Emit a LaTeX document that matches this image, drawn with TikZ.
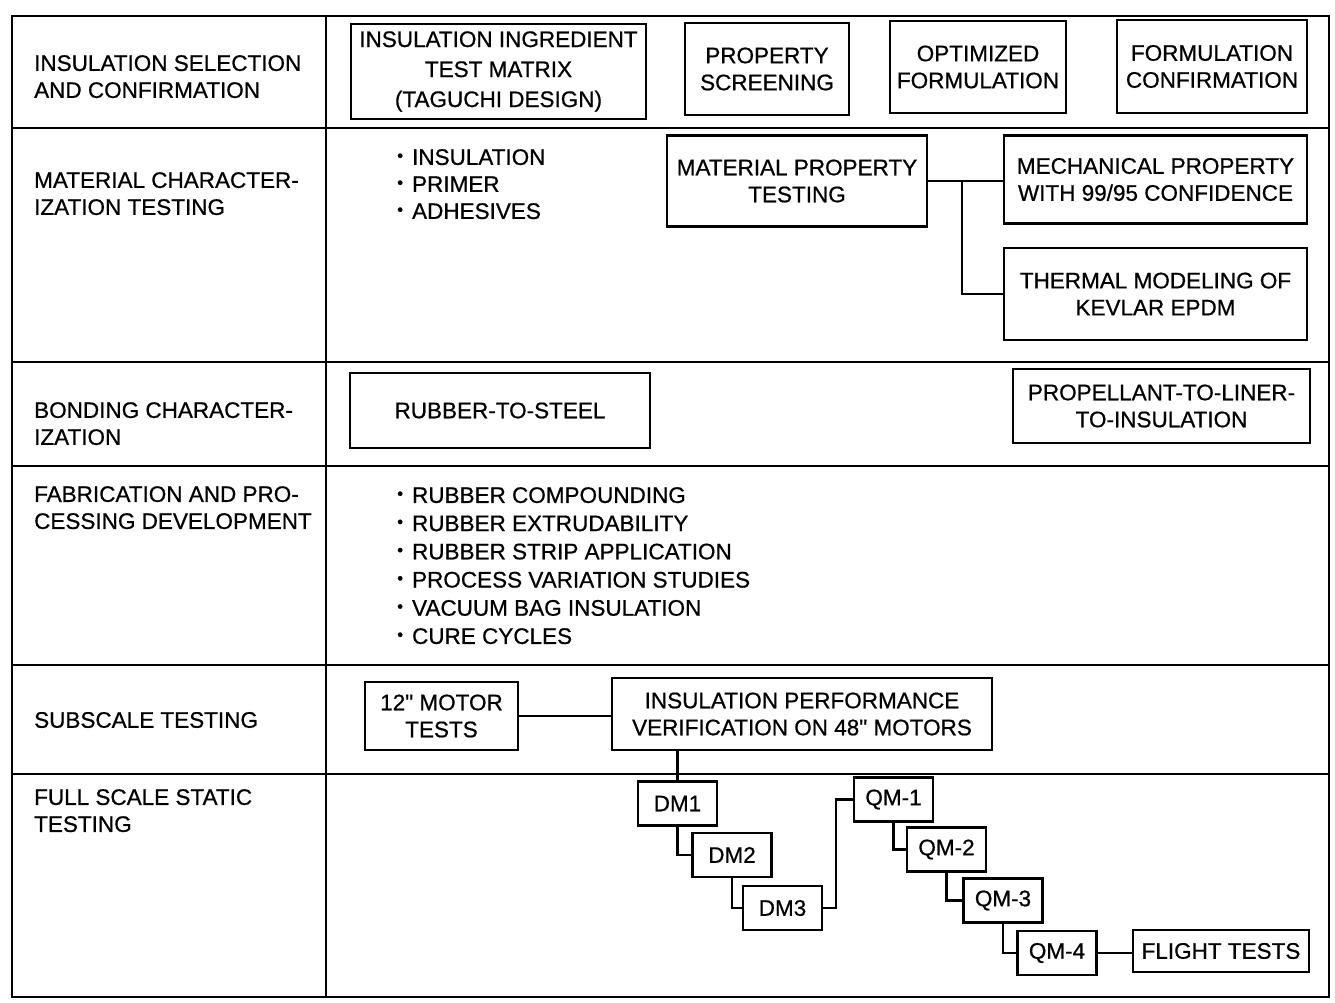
\documentclass[tikz,border=0pt]{standalone}
\usepackage{graphicx}
\usepackage{fontspec}
\setmainfont{Liberation Sans}
\newfontfamily\scanfont{Liberation Sans}[FakeBold=0.7]
\usetikzlibrary{positioning,calc}
\newcommand{\itm}{\raisebox{0.16em}{\scalebox{0.75}{\textbullet}}\hspace{0.4em}}

\begin{document}
\begin{tikzpicture}[x=1pt, y=-1pt,
          every node/.style={font=\scanfont\fontsize{22.5}{27}\selectfont},
          box/.style={rectangle, draw, line width=2.4pt, align=center, inner sep=0pt},
          motor/.style={box, minimum width=79pt, minimum height=44pt},
          rowlabel/.style={anchor=north west, align=left, inner sep=0pt},
          grid/.style={line width=2.8pt},
          link/.style={line width=2.4pt}
        ]
          \useasboundingbox (0,0) rectangle (1335,1002);
          \draw[grid] (12,16) rectangle (1329,997);
          \draw[grid] (326,16) -- (326,997);
          \foreach \y in {128,362,466,665,774}
            \draw[grid] (12,\y) -- (1329,\y);

          \node[rowlabel] (lblsel) at (34,55) {INSULATION SELECTION\\AND CONFIRMATION};
          \node[rowlabel] (lblmat) at (34,172) {MATERIAL CHARACTER-\\IZATION TESTING};
          \node[rowlabel] (lblbond) at (34,402) {BONDING CHARACTER-\\IZATION};
          \node[rowlabel] (lblfab) at (34,486) {FABRICATION AND PRO-\\CESSING DEVELOPMENT};
          \node[rowlabel, anchor=west] (lblsub) at (34,720) {SUBSCALE TESTING};
          \node[rowlabel] (lblfull) at (34,789) {FULL SCALE STATIC\\TESTING};

          \node[box, minimum width=295pt, minimum height=95pt, font=\scanfont\fontsize{22.5}{30}\selectfont] (matrix) at (498.5,71.5) {INSULATION INGREDIENT\\TEST MATRIX\\(TAGUCHI DESIGN)};
          \node[box, minimum width=164pt, minimum height=92pt] (screen) at (767,69) {PROPERTY\\SCREENING};
          \node[box, minimum width=176pt, minimum height=92pt] (optim) at (978,67) {OPTIMIZED\\FORMULATION};
          \node[box, minimum width=190pt, minimum height=93pt] (confirm) at (1212,66.5) {FORMULATION\\CONFIRMATION};

          \node[rowlabel] (matlist) at (397,149) {\itm INSULATION\\\itm PRIMER\\\itm ADHESIVES};
          \node[box, minimum width=260pt, minimum height=91pt] (mpt) at (797,181) {MATERIAL PROPERTY\\TESTING};
          \node[box, minimum width=303pt, minimum height=88pt] (mech) at (1155.5,179.5) {MECHANICAL PROPERTY\\WITH 99/95 CONFIDENCE};
          \node[box, minimum width=303pt, minimum height=92pt] (thermal) at (1155.5,294) {THERMAL MODELING OF\\KEVLAR EPDM};
          \draw[link] (mpt.east) -- (mpt.east -| mech.west);
          \coordinate (split) at ($(mpt.east)!0.45!(mpt.east -| mech.west)$);
          \draw[link] (split) |- (thermal.west);

          \node[box, minimum width=300pt, minimum height=75pt] (steel) at (500,410.5) {RUBBER-TO-STEEL};
          \node[box, minimum width=297pt, minimum height=74pt] (liner) at (1161.5,406) {PROPELLANT-TO-LINER-\\TO-INSULATION};

          \node[rowlabel, font=\scanfont\fontsize{22.5}{28.2}\selectfont] (fablist) at (397,487) {\itm RUBBER COMPOUNDING\\\itm RUBBER EXTRUDABILITY\\\itm RUBBER STRIP APPLICATION\\\itm PROCESS VARIATION STUDIES\\\itm VACUUM BAG INSULATION\\\itm CURE CYCLES};

          \node[box, minimum width=153pt, minimum height=68pt] (motor12) at (441.5,716) {12" MOTOR\\TESTS};
          \node[box, minimum width=380pt, minimum height=72pt] (verify) at (802,714) {INSULATION PERFORMANCE\\VERIFICATION ON 48" MOTORS};
          \draw[link] (motor12.east) -- (motor12.east -| verify.west);

          \node[motor] (dm1) at (677.5,803.5) {DM1};
          \node[motor] (dm2) at (732,855) {DM2};
          \node[motor] (dm3) at (782.5,908) {DM3};
          \node[motor] (qm1) at (893.5,799.5) {QM-1};
          \node[motor] (qm2) at (946.5,849.5) {QM-2};
          \node[motor] (qm3) at (1003,900.5) {QM-3};
          \node[motor] (qm4) at (1057,953) {QM-4};
          \node[box, minimum width=176pt, minimum height=42pt] (flight) at (1221,951) {FLIGHT TESTS};

          \draw[link] (verify.south -| dm1.north) -- (dm1.north);
          \draw[link] (dm1.south) |- (dm2.west);
          \draw[link] (dm2.south) |- (dm3.west);
          \draw[link] (dm3.east) -- ++(13,0) |- (qm1.west);
          \draw[link] (qm1.south) |- (qm2.west);
          \draw[link] (qm2.south) |- (qm3.west);
          \draw[link] (qm3.south) |- (qm4.west);
          \draw[link] (qm4.east) -- (qm4.east -| flight.west);
        \end{tikzpicture}
\end{document}
